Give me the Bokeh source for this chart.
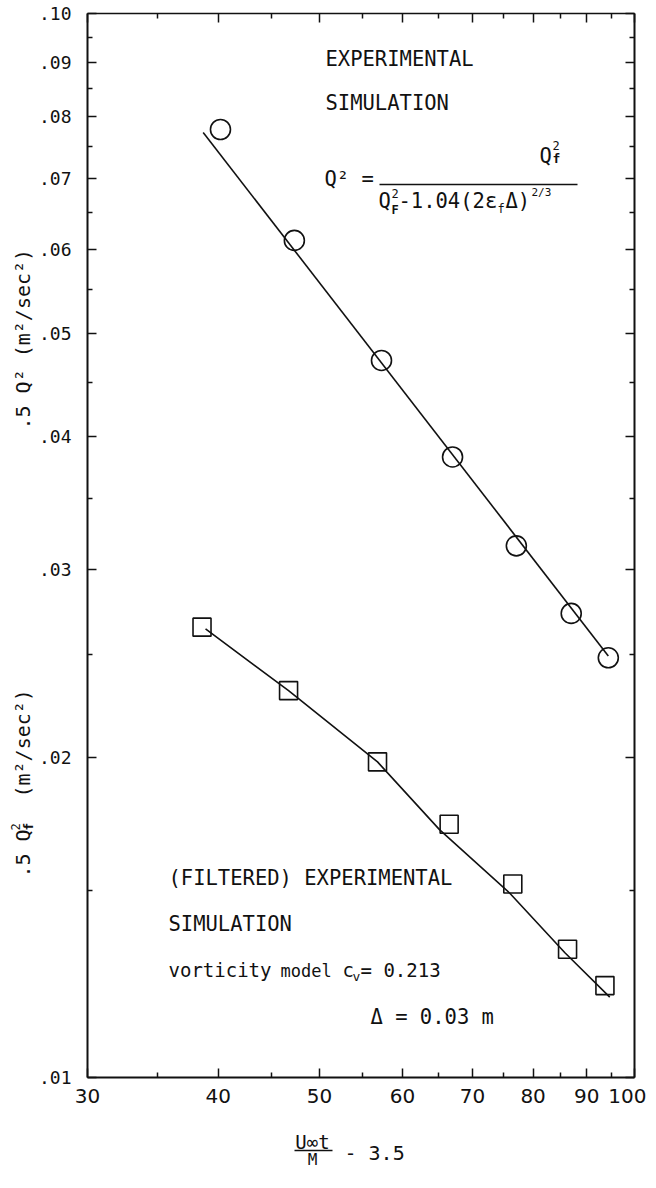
import math
from bokeh.plotting import figure
from bokeh.models import LogAxis, FixedTicker, CustomJSTickFormatter, Label, Range1d
from bokeh.embed import file_html
from bokeh.resources import INLINE

# ---------------- data ----------------
x_q2 = [40.2, 47.3, 57.3, 67.0, 77.1, 87.0, 94.4]
q2 = [0.0778, 0.0612, 0.0472, 0.0383, 0.0316, 0.0273, 0.0248]
x_qf = [38.6, 46.7, 56.8, 66.5, 76.5, 86.3, 93.7]
qf = [0.0265, 0.0231, 0.0198, 0.0173, 0.0152, 0.0132, 0.0122]
sim_q2_x = [38.7, 94.4]
sim_q2 = [0.0773, 0.0249]
sim_qf_x = [38.9, 46.7, 56.8, 65.1, 76.0, 85.8, 94.7]
sim_qf = [0.0264, 0.0231, 0.0198, 0.0171, 0.0149, 0.0131, 0.0119]

x_major = [30, 40, 50, 60, 70, 80, 90, 100]
x_minor = [35, 45, 55, 65, 75, 85, 95]
y_major = [0.01, 0.02, 0.03, 0.04, 0.05, 0.06, 0.07, 0.08, 0.09, 0.10]
y_minor = [0.015, 0.025, 0.035, 0.045, 0.055, 0.065, 0.075, 0.085, 0.095]

# ---------------- layout ----------------
W, H = 646, 1170
FL, FT, FW, FH = 87, 13, 547, 1064      # plot box inside the canvas (px)
XMIN, XMAX, YMIN, YMAX = 30, 100, 0.01, 0.1
MONO = "DejaVu Sans Mono"
INK = "#111111"


def fx(px):
    return 10 ** (math.log10(XMIN) + (px - FL) / FW * math.log10(XMAX / XMIN))


def fy(py):
    return 10 ** (math.log10(YMAX) - (py - FT) / FH * math.log10(YMAX / YMIN))


# the frame spans the whole canvas; the axes are pinned to the plot box
p = figure(width=W, height=H, x_axis_type="log", y_axis_type="log",
           x_range=Range1d(fx(0), fx(W)), y_range=Range1d(fy(H), fy(0)),
           output_backend="svg", toolbar_location=None,
           min_border_left=0, min_border_top=0,
           min_border_right=0, min_border_bottom=0)
p.background_fill_color = "white"
p.border_fill_color = "white"
p.outline_line_color = None
p.xgrid.visible = False
p.ygrid.visible = False

xfmt = CustomJSTickFormatter(code="return String(Math.round(tick));")
yfmt = CustomJSTickFormatter(code="const n = Math.round(tick*100); return '.' + (n < 10 ? '0' + n : String(n));")
blank = CustomJSTickFormatter(code="return '';")


def style_axis(ax, labels=True):
    ax.axis_line_color = INK
    ax.axis_line_width = 2
    ax.major_tick_line_color = INK
    ax.minor_tick_line_color = INK
    ax.major_tick_line_width = 1.5
    ax.minor_tick_line_width = 1.5
    ax.major_tick_in = 9
    ax.major_tick_out = 0
    ax.minor_tick_in = 5
    ax.minor_tick_out = 0
    if not labels:
        ax.formatter = blank
        ax.major_label_text_font_size = "1px"
        ax.major_label_standoff = 0


xb = p.xaxis[0]
xb.ticker = FixedTicker(ticks=x_major, minor_ticks=x_minor)
xb.formatter = xfmt
xb.fixed_location = YMIN
xb.bounds = (XMIN, XMAX)
style_axis(xb)
xb.major_label_text_font = "DejaVu Sans"
xb.major_label_text_font_size = "20px"
xb.major_label_text_color = INK
xb.major_label_standoff = 11

yl = p.yaxis[0]
yl.ticker = FixedTicker(ticks=y_major, minor_ticks=y_minor)
yl.formatter = yfmt
yl.fixed_location = XMIN
yl.bounds = (YMIN, YMAX)
style_axis(yl)
yl.major_label_text_font = MONO
yl.major_label_text_font_size = "18px"
yl.major_label_text_color = INK
yl.major_label_standoff = 16

xt = LogAxis(ticker=FixedTicker(ticks=x_major, minor_ticks=x_minor),
             fixed_location=YMAX, bounds=(XMIN, XMAX))
style_axis(xt, labels=False)
xt.axis_line_width = 1.5
p.add_layout(xt, "above")
yr = LogAxis(ticker=FixedTicker(ticks=y_major, minor_ticks=y_minor),
             fixed_location=XMAX, bounds=(YMIN, YMAX))
style_axis(yr, labels=False)
p.add_layout(yr, "right")

# ---------------- series ----------------
p.line(sim_q2_x, sim_q2, line_color=INK, line_width=1.6)
p.line(sim_qf_x, sim_qf, line_color=INK, line_width=1.6)
p.scatter(x_q2, q2, marker="circle", size=20, fill_color=None,
          line_color=INK, line_width=1.6)
p.scatter(x_qf, qf, marker="square", size=18, fill_color=None,
          line_color=INK, line_width=1.6)


# ---------------- texts ----------------
def lab(px, py, text, size="20.5px", font=MONO, align="left", style="normal", angle=0.0):
    p.add_layout(Label(x=fx(px), y=fy(py), text=text, text_font=font,
                       text_font_size=size, text_color=INK, text_align=align,
                       text_baseline="middle", text_font_style=style, angle=angle))


def bar(px0, px1, py):
    p.segment(x0=[fx(px0)], y0=[fy(py)], x1=[fx(px1)], y1=[fy(py)],
              line_color=INK, line_width=1.5)


# upper block
lab(325, 58, "EXPERIMENTAL")
lab(325, 102, "SIMULATION")
lab(324, 178, "Q²  =")
lab(539, 155, "Q")
lab(552, 145, "2", size="12px")
lab(552, 158, "f", size="13px", style="bold")
bar(379, 577, 184)
lab(378, 200, "Q")
lab(391, 193, "2", size="12px")
lab(391, 209, "F", size="12px", style="bold")
lab(398, 200, "-1.04(2ε")
lab(497, 208, "f", size="12px")
lab(505, 200, "Δ)")
lab(531, 192, "2/3", size="11px")

# lower block
lab(168, 877, "(FILTERED) EXPERIMENTAL")
lab(168, 923, "SIMULATION")
lab(168, 969, "vorticity", size="19px")
lab(280, 970, "model", size="17px")
lab(342, 969, "c", size="19px")
lab(352, 976, "v", size="13px")
lab(360, 969, "= 0.213", size="19px")
lab(370, 1016, "Δ = 0.03 m")

# y-axis titles (rotated)
ROT = math.pi / 2
lab(22, 429, ".5 Q² (m²/sec²)", size="20px", angle=ROT)
lab(22, 877, ".5 Q", size="20px", angle=ROT)
lab(15, 830, "2", size="12px", angle=ROT)
lab(28, 830, "f", size="13px", style="bold", angle=ROT)
lab(22, 797, "(m²/sec²)", size="20px", angle=ROT)

# x-axis title (fraction)
lab(312, 1141, "U∞t", size="19px", align="center")
bar(294, 332, 1150)
lab(312, 1159, "M", size="16px", align="center")
lab(344, 1152, "- 3.5", size="20px")

open("out.html", "w").write(file_html(p, INLINE))
